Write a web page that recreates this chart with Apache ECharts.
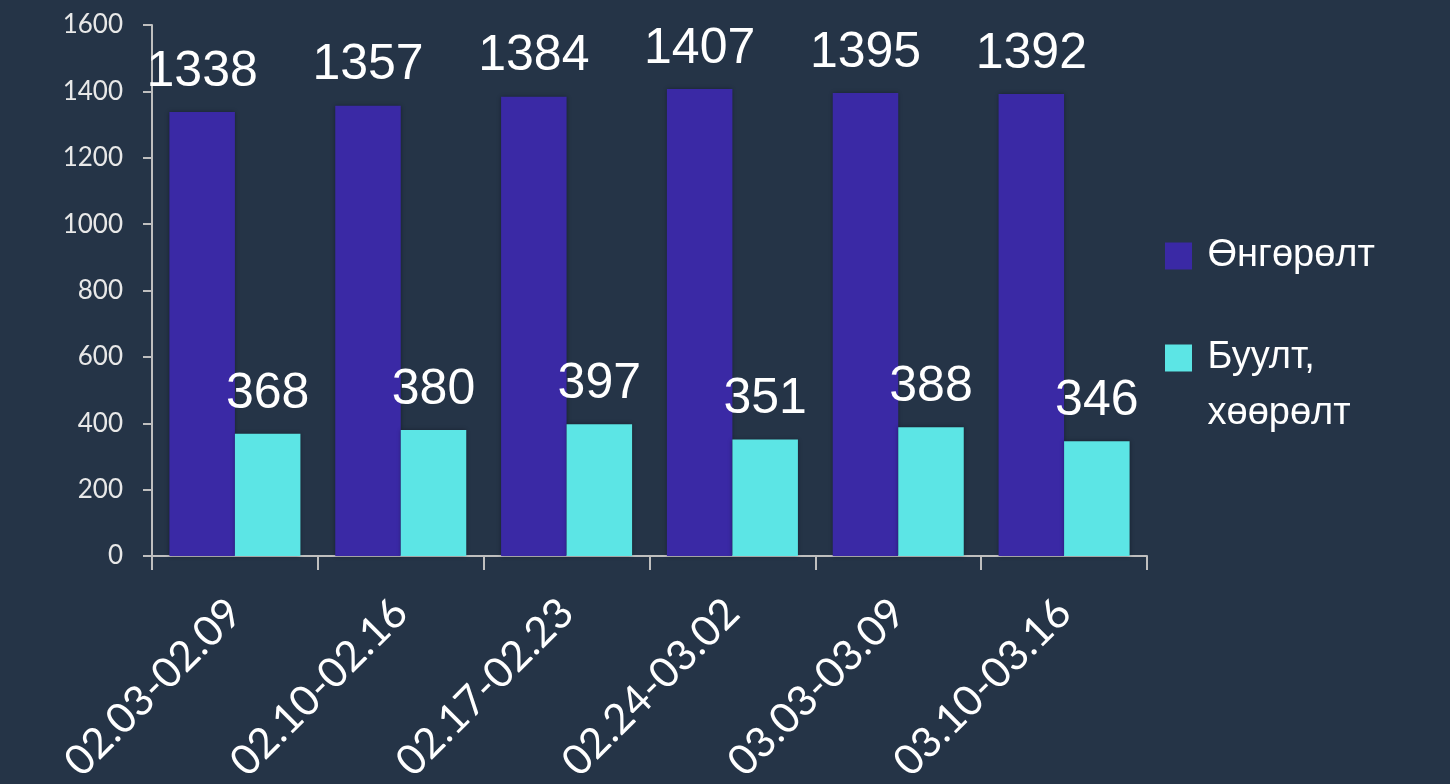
<!DOCTYPE html>
<html>
<head>
<meta charset="utf-8">
<script src="https://cdn.jsdelivr.net/npm/echarts@6/dist/echarts.min.js"></script>
<style>
  html, body { margin: 0; padding: 0; background: #253447; }
  #container { width: 1450px; height: 784px; }
</style>
</head>
<body>
<div id="container"></div>
<script>
// chart data
var weeks = ['02.03-02.09', '02.10-02.16', '02.17-02.23', '02.24-03.02', '03.03-03.09', '03.10-03.16'];
var passing = [1338, 1357, 1384, 1407, 1395, 1392];
var landing = [368, 380, 397, 351, 388, 346];
var yTicks = [0, 200, 400, 600, 800, 1000, 1200, 1400, 1600];

var nameA = 'Өнгөрөлт';
var nameB = 'Буулт,\nхөөрөлт';

var dom = document.getElementById('container');
var myChart = echarts.init(dom);

var labelStyle = {
  show: true,
  position: 'top',
  distance: 15,
  color: '#ffffff',
  fontSize: 50,
  fontFamily: 'Liberation Sans'
};

var legendText = { color: '#ffffff', fontSize: 38, fontFamily: 'Liberation Sans', lineHeight: 56 };

// leading space on every line = gap between icon and text
function padLines(name) {
  return name.split('\n').map(function (s) { return ' ' + s; }).join('\n');
}

var option = {
  backgroundColor: '#253447',
  animation: false,
  legend: [
    {
      orient: 'vertical',
      left: 1165,
      top: 256 - 28,
      padding: 0,
      itemWidth: 27,
      itemHeight: 27,
      icon: 'rect',
      data: [nameA],
      formatter: padLines,
      textStyle: legendText
    },
    {
      orient: 'vertical',
      left: 1165,
      top: 358 - 84,
      padding: 0,
      itemWidth: 27,
      itemHeight: 27,
      icon: 'rect',
      data: [nameB],
      // blank first line keeps the icon level with "Буулт,"
      formatter: function (name) { return ' \n' + padLines(name); },
      textStyle: legendText
    }
  ],
  grid: {
    left: 152,
    right: 303,
    top: 25,
    bottom: 228,
    outerBoundsMode: 'none'
  },
  xAxis: {
    type: 'category',
    data: weeks,
    axisLine: { lineStyle: { color: '#bfbfbf', width: 2 } },
    axisTick: { show: true, length: 14, lineStyle: { color: '#bfbfbf', width: 2 } },
    axisLabel: {
      rotate: 45,
      margin: 50,
      color: '#ffffff',
      fontSize: 42,
      fontFamily: 'Lato',
      interval: 0
    }
  },
  yAxis: {
    type: 'value',
    min: yTicks[0],
    max: yTicks[yTicks.length - 1],
    interval: 200,
    axisLine: { show: true, lineStyle: { color: '#bfbfbf', width: 2 } },
    axisTick: { show: true, length: 9, lineStyle: { color: '#bfbfbf', width: 2 } },
    splitLine: { show: false },
    axisLabel: {
      margin: 29,
      color: '#e8e8e8',
      fontSize: 26,
      fontFamily: 'Lato',
      formatter: function (v) { return String(v); }
    }
  },
  series: [
    {
      name: nameA,
      type: 'bar',
      data: passing,
      barGap: '0%',
      barCategoryGap: '21%',
      itemStyle: { color: '#3a29a5', shadowColor: 'rgba(0,0,0,0.35)', shadowBlur: 4 },
      label: labelStyle
    },
    {
      name: nameB,
      type: 'bar',
      data: landing,
      barGap: '0%',
      barCategoryGap: '21%',
      itemStyle: { color: '#5ce5e5', shadowColor: 'rgba(0,0,0,0.35)', shadowBlur: 4 },
      label: labelStyle
    }
  ]
};

if (option && typeof option === 'object') {
  myChart.setOption(option, true);
}
</script>
</body>
</html>
